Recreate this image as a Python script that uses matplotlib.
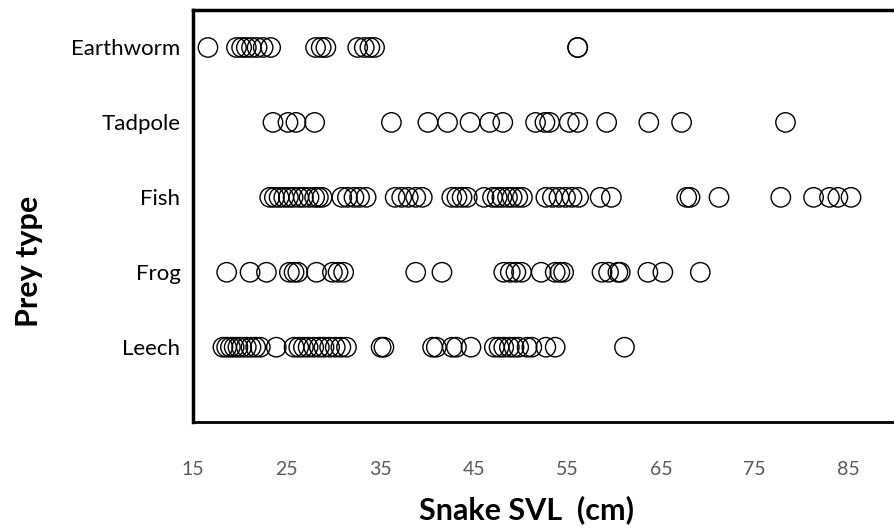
import matplotlib
matplotlib.use("Agg")
import matplotlib.pyplot as plt

plt.rcParams["font.family"] = ["Lato", "DejaVu Sans"]

# --- data: snake SVL (cm) per prey item -----------------------------------
prey_types = ["Leech", "Frog", "Fish", "Tadpole", "Earthworm"]

leech_svl = [18.2, 18.6, 19.0, 19.4, 19.8, 20.2, 20.7, 21.2, 21.7, 22.2, 23.9,
             25.8, 26.3, 26.8, 27.3, 27.9, 28.5, 29.0, 29.6, 30.2, 30.8, 31.4,
             35.1, 35.4, 40.6, 41.0, 42.7, 43.15, 44.7, 47.2, 47.7, 48.2, 48.8,
             49.3, 49.8, 50.7, 51.2, 52.7, 53.7, 61.1]
frog_svl = [18.6, 21.1, 22.85, 25.3, 25.8, 26.2, 28.2, 29.9, 30.5, 31.1, 38.8,
            41.6, 48.2, 48.9, 49.5, 50.1, 52.2, 53.7, 54.2, 54.6, 58.7, 59.4,
            60.4, 60.65, 63.6, 65.2, 69.2]
fish_svl = [23.2, 23.7, 24.2, 24.7, 25.2, 25.7, 26.3, 26.8, 27.4, 28.0, 28.4,
            28.8, 30.9, 31.5, 32.2, 32.8, 33.5, 36.6, 37.3, 38.0, 38.8, 39.5,
            42.65, 43.2, 43.75, 44.3, 46.1, 47.0, 47.5, 48.0, 48.6, 49.1, 49.7,
            50.2, 52.7, 53.4, 54.1, 54.8, 55.5, 56.2, 58.5, 59.7, 67.75, 68.1,
            71.2, 77.8, 81.3, 83.0, 83.9, 85.3]
tadpole_svl = [23.55, 25.15, 26.0, 28.0, 36.2, 40.1, 42.2, 44.6, 46.7, 48.1,
               51.6, 52.6, 53.1, 55.2, 56.1, 59.2, 63.7, 67.2, 78.3]
earthworm_svl = [16.6, 19.65, 20.2, 20.7, 21.25, 21.85, 22.5, 23.3, 28.1, 28.7,
                 29.2, 32.6, 33.3, 33.9, 34.4, 56.1, 56.1]

series = [leech_svl, frog_svl, fish_svl, tadpole_svl, earthworm_svl]
x_ticks = [15, 25, 35, 45, 55, 65, 75, 85]

fig = plt.figure(figsize=(8.95, 5.27), dpi=100)
ax = fig.add_axes([0.2156, 0.199, 0.7844, 0.782])

for i, vals in enumerate(series, start=1):
    ax.scatter(vals, [i] * len(vals), s=195, facecolors="none",
               edgecolors="black", linewidths=1.0, zorder=3)

ax.set_xlim(15, 90)
ax.set_ylim(0, 5.5)
ax.set_xticks(x_ticks)
ax.set_yticks(range(1, len(prey_types) + 1))
ax.set_yticklabels(prey_types)
ax.tick_params(axis="both", length=0)
ax.tick_params(axis="x", labelsize=14, labelcolor="#595959", pad=28)
ax.tick_params(axis="y", labelsize=16, labelcolor="black", pad=9)

ax.spines["right"].set_visible(False)
ax.spines["left"].set_linewidth(2.5)
ax.spines["top"].set_linewidth(2.5)
ax.spines["bottom"].set_linewidth(2.0)
for s in ("left", "top", "bottom"):
    ax.spines[s].set_color("black")

ax.set_xlabel("Snake SVL  (cm)", fontsize=22, fontweight="bold")
ax.set_ylabel("Prey type", fontsize=22, fontweight="bold")
ax.xaxis.set_label_coords(0.475, -0.178)
ax.yaxis.set_label_coords(-0.213, 0.39)

fig.savefig("out.png", dpi=100)
